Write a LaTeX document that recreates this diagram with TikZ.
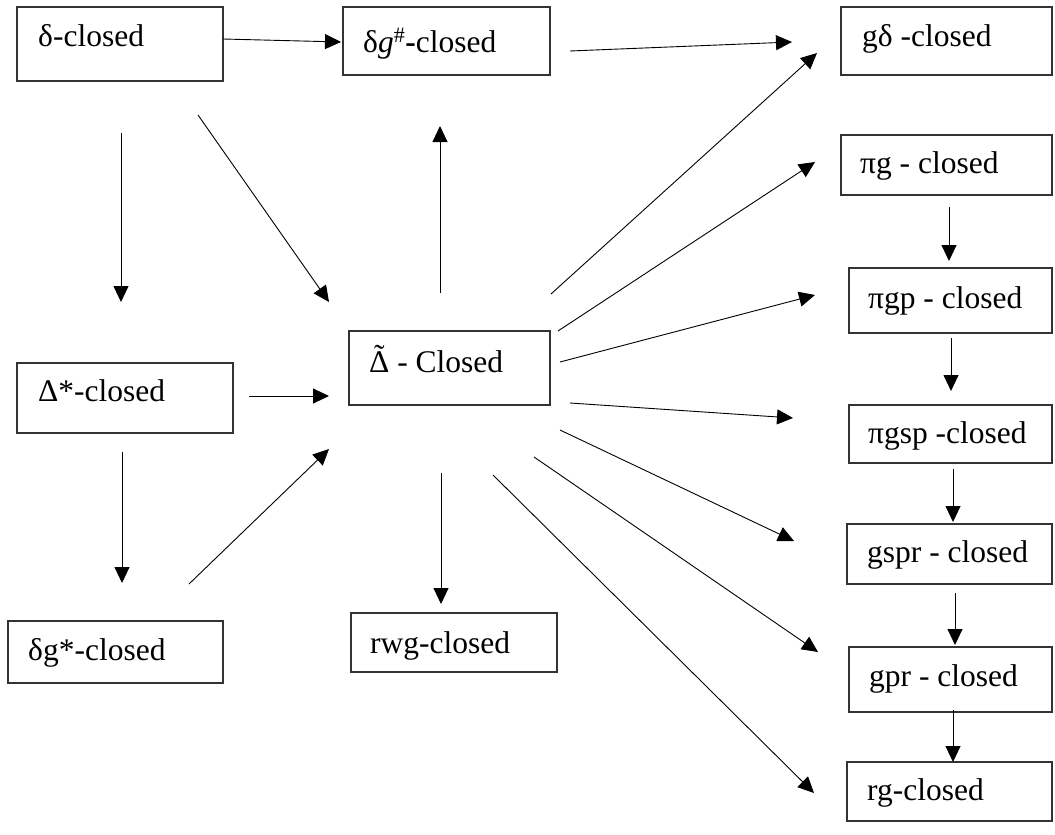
\documentclass[tikz,border=0pt]{standalone}
\usepackage{fontspec}
\setmainfont{Liberation Serif}
\usetikzlibrary{arrows.meta}
\tikzset{
  box/.style={draw=black!80, line width=1.1pt, inner sep=0pt, fill=none},
  lbl/.style={anchor=base west, inner sep=0pt, font=\fontsize{31.5}{36}\selectfont},
  arr/.style={line width=0.9pt, -{Triangle[length=16pt,width=15pt]}},
}
\newcommand{\mkbox}[5]{% name, x1, y1, x2, y2
  \node[box, minimum width={(#4-#2)*1pt}, minimum height={(#5-#3)*1pt}] (#1) at ({(#2+#4)/2},{(#3+#5)/2}) {};}
\newsavebox{\dbox}
\newcommand{\tDelta}{\sbox{\dbox}{Δ}\rlap{\hbox to\wd\dbox{\hss\raisebox{0.17em}{\char"02DC}\hss}}\usebox{\dbox}}
\begin{document}
\begin{tikzpicture}[x=1pt,y=-1pt]
\useasboundingbox (0,0) rectangle (1055,835);
% boxes
\mkbox{d}{17}{7}{223}{81}
\mkbox{dg}{343}{7}{550}{75}
\mkbox{gd}{841}{7}{1052}{75}
\mkbox{pg}{841}{135}{1052}{195}
\mkbox{pgp}{849}{268}{1052}{333}
\mkbox{pgsp}{849}{405}{1052}{463}
\mkbox{gspr}{847}{524}{1052}{584}
\mkbox{gpr}{849}{647}{1052}{712}
\mkbox{rg}{847}{762}{1052}{821}
\mkbox{ds}{17}{363}{233}{433}
\mkbox{dgs}{8}{621}{223}{683}
\mkbox{dt}{349}{331}{550}{405}
\mkbox{rwg}{351}{613}{557}{672}
% labels
\node[lbl] (d-t) at (38,46) {δ-closed};
\node[lbl] (dg-t) at (363,52) {δ\textit{g}\textsuperscript{\#}\textbf{-}closed};
\node[lbl] (gd-t) at (862,46) {gδ -closed};
\node[lbl] (pg-t) at (860,173) {πg - closed};
\node[lbl] (pgp-t) at (868,308) {πgp - closed};
\node[lbl] (pgsp-t) at (868,443) {πgsp -closed};
\node[lbl] (gspr-t) at (867,562) {gspr - closed};
\node[lbl] (gpr-t) at (869,686) {gpr - closed};
\node[lbl] (rg-t) at (867,800) {rg-closed};
\node[lbl] (ds-t) at (38,401) {Δ*-closed};
\node[lbl] (dgs-t) at (28,660) {δg*-closed};
\node[lbl] (dt-t) at (369,372) {\tDelta\ - Closed};
\node[lbl] (rwg-t) at (370,653) {rwg-closed};
% connector end points
\coordinate (a1s) at (223,39);  \coordinate (a1e) at (341,42);
\coordinate (a2s) at (570,51);  \coordinate (a2e) at (792,42);
\coordinate (a3s) at (121,133); \coordinate (a3e) at (121,302);
\coordinate (a4s) at (198,115); \coordinate (a4e) at (329,302);
\coordinate (a5s) at (440,293); \coordinate (a5e) at (440,126);
\coordinate (a6s) at (551,294); \coordinate (a6e) at (817,53);
\coordinate (a7s) at (558,331); \coordinate (a7e) at (815,162);
\coordinate (a8s) at (560,362); \coordinate (a8e) at (815,295);
\coordinate (a9s) at (570,403); \coordinate (a9e) at (793,418);
\coordinate (a10s) at (560,430); \coordinate (a10e) at (794,541);
\coordinate (a11s) at (534,457); \coordinate (a11e) at (818,652);
\coordinate (a12s) at (493,475); \coordinate (a12e) at (814,793);
\coordinate (a13s) at (441,473); \coordinate (a13e) at (441,604);
\coordinate (a14s) at (249,396); \coordinate (a14e) at (329,396);
\coordinate (a15s) at (122,452); \coordinate (a15e) at (122,583);
\coordinate (a16s) at (189,584); \coordinate (a16e) at (329,449);
\coordinate (a17s) at (949,207); \coordinate (a17e) at (949,261);
\coordinate (a18s) at (951,338); \coordinate (a18e) at (951,391);
\coordinate (a19s) at (953,469); \coordinate (a19e) at (953,522);
\coordinate (a20s) at (955,593); \coordinate (a20e) at (955,645);
\coordinate (a21s) at (953,710); \coordinate (a21e) at (953,762);
\foreach \i in {1,...,21} {\draw[arr] (a\i s) -- (a\i e);}
\end{tikzpicture}
\end{document}
